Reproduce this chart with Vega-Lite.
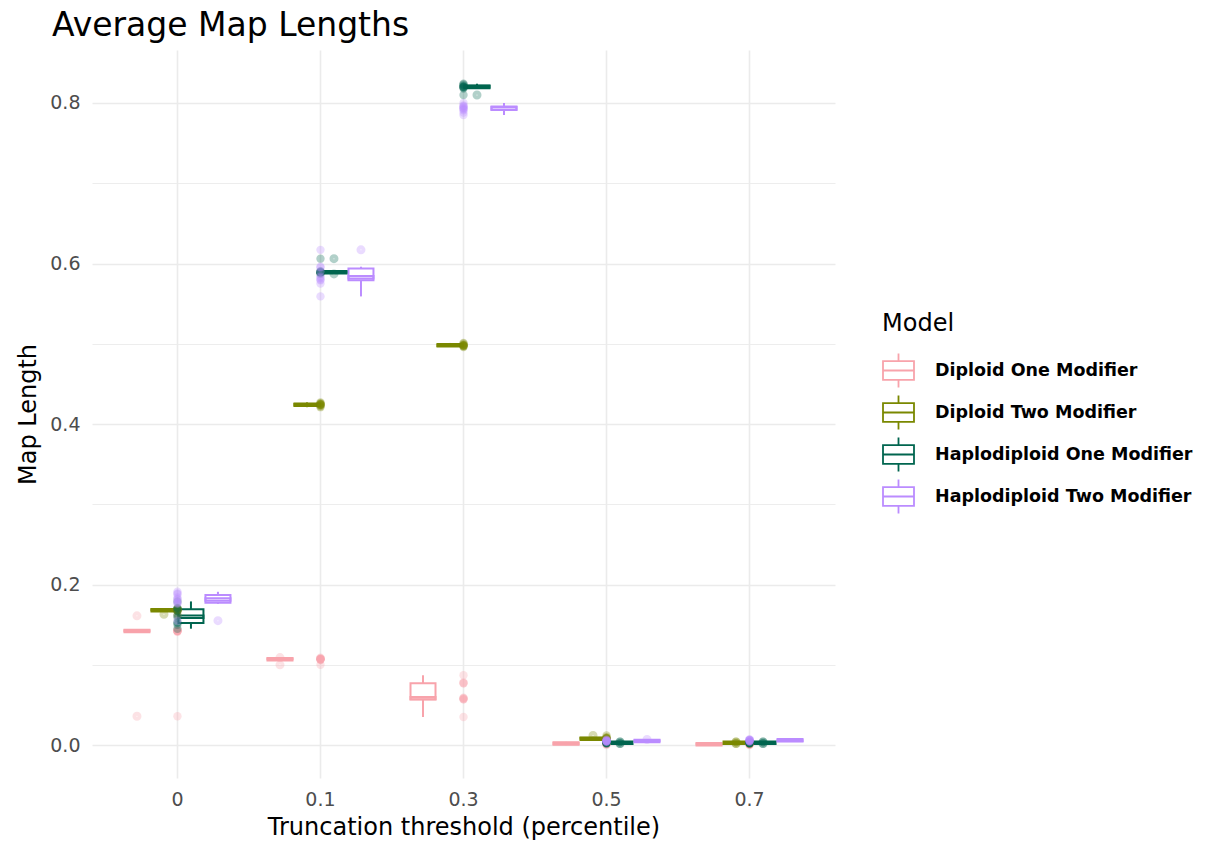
{
  "$schema": "https://vega.github.io/schema/vega-lite/v6.json",
  "width": 743,
  "height": 728,
  "autosize": {"type": "none"},
  "padding": {"left": 92, "top": 50, "right": 377, "bottom": 68},
  "background": "white",
  "title": {
    "text": "Average Map Lengths",
    "anchor": "start",
    "frame": "group",
    "dx": -40,
    "dy": 31,
    "offset": 5,
    "baseline": "bottom",
    "font": "DejaVu Sans",
    "fontSize": 33,
    "fontWeight": "normal",
    "color": "black"
  },
  "config": {
    "view": {"stroke": null},
    "axis": {
      "domain": false,
      "ticks": false,
      "gridColor": "#EBEBEB",
      "labelFont": "DejaVu Sans",
      "labelFontSize": 19,
      "labelColor": "#4D4D4D",
      "titleFont": "DejaVu Sans",
      "titleFontSize": 24,
      "titleFontWeight": "normal",
      "titleColor": "black"
    }
  },
  "data": {
    "values": [
      {"threshold": "0", "model": "Diploid One Modifier", "length": 0.036},
      {"threshold": "0", "model": "Diploid One Modifier", "length": 0.141},
      {"threshold": "0", "model": "Diploid One Modifier", "length": 0.142},
      {"threshold": "0", "model": "Diploid One Modifier", "length": 0.142},
      {"threshold": "0", "model": "Diploid One Modifier", "length": 0.142},
      {"threshold": "0", "model": "Diploid One Modifier", "length": 0.142},
      {"threshold": "0", "model": "Diploid One Modifier", "length": 0.142},
      {"threshold": "0", "model": "Diploid One Modifier", "length": 0.143},
      {"threshold": "0", "model": "Diploid One Modifier", "length": 0.143},
      {"threshold": "0", "model": "Diploid One Modifier", "length": 0.161},
      {"threshold": "0", "model": "Diploid Two Modifier", "length": 0.163},
      {"threshold": "0", "model": "Diploid Two Modifier", "length": 0.167},
      {"threshold": "0", "model": "Diploid Two Modifier", "length": 0.168},
      {"threshold": "0", "model": "Diploid Two Modifier", "length": 0.168},
      {"threshold": "0", "model": "Diploid Two Modifier", "length": 0.168},
      {"threshold": "0", "model": "Diploid Two Modifier", "length": 0.168},
      {"threshold": "0", "model": "Diploid Two Modifier", "length": 0.169},
      {"threshold": "0", "model": "Diploid Two Modifier", "length": 0.169},
      {"threshold": "0", "model": "Diploid Two Modifier", "length": 0.170},
      {"threshold": "0", "model": "Diploid Two Modifier", "length": 0.170},
      {"threshold": "0", "model": "Haplodiploid One Modifier", "length": 0.145},
      {"threshold": "0", "model": "Haplodiploid One Modifier", "length": 0.150},
      {"threshold": "0", "model": "Haplodiploid One Modifier", "length": 0.152},
      {"threshold": "0", "model": "Haplodiploid One Modifier", "length": 0.153},
      {"threshold": "0", "model": "Haplodiploid One Modifier", "length": 0.159},
      {"threshold": "0", "model": "Haplodiploid One Modifier", "length": 0.161},
      {"threshold": "0", "model": "Haplodiploid One Modifier", "length": 0.167},
      {"threshold": "0", "model": "Haplodiploid One Modifier", "length": 0.170},
      {"threshold": "0", "model": "Haplodiploid One Modifier", "length": 0.171},
      {"threshold": "0", "model": "Haplodiploid One Modifier", "length": 0.179},
      {"threshold": "0", "model": "Haplodiploid Two Modifier", "length": 0.155},
      {"threshold": "0", "model": "Haplodiploid Two Modifier", "length": 0.176},
      {"threshold": "0", "model": "Haplodiploid Two Modifier", "length": 0.177},
      {"threshold": "0", "model": "Haplodiploid Two Modifier", "length": 0.178},
      {"threshold": "0", "model": "Haplodiploid Two Modifier", "length": 0.181},
      {"threshold": "0", "model": "Haplodiploid Two Modifier", "length": 0.182},
      {"threshold": "0", "model": "Haplodiploid Two Modifier", "length": 0.184},
      {"threshold": "0", "model": "Haplodiploid Two Modifier", "length": 0.188},
      {"threshold": "0", "model": "Haplodiploid Two Modifier", "length": 0.189},
      {"threshold": "0", "model": "Haplodiploid Two Modifier", "length": 0.191},
      {"threshold": "0.1", "model": "Diploid One Modifier", "length": 0.100},
      {"threshold": "0.1", "model": "Diploid One Modifier", "length": 0.106},
      {"threshold": "0.1", "model": "Diploid One Modifier", "length": 0.107},
      {"threshold": "0.1", "model": "Diploid One Modifier", "length": 0.107},
      {"threshold": "0.1", "model": "Diploid One Modifier", "length": 0.107},
      {"threshold": "0.1", "model": "Diploid One Modifier", "length": 0.107},
      {"threshold": "0.1", "model": "Diploid One Modifier", "length": 0.107},
      {"threshold": "0.1", "model": "Diploid One Modifier", "length": 0.108},
      {"threshold": "0.1", "model": "Diploid One Modifier", "length": 0.108},
      {"threshold": "0.1", "model": "Diploid One Modifier", "length": 0.109},
      {"threshold": "0.1", "model": "Diploid Two Modifier", "length": 0.421},
      {"threshold": "0.1", "model": "Diploid Two Modifier", "length": 0.422},
      {"threshold": "0.1", "model": "Diploid Two Modifier", "length": 0.423},
      {"threshold": "0.1", "model": "Diploid Two Modifier", "length": 0.424},
      {"threshold": "0.1", "model": "Diploid Two Modifier", "length": 0.424},
      {"threshold": "0.1", "model": "Diploid Two Modifier", "length": 0.424},
      {"threshold": "0.1", "model": "Diploid Two Modifier", "length": 0.425},
      {"threshold": "0.1", "model": "Diploid Two Modifier", "length": 0.425},
      {"threshold": "0.1", "model": "Diploid Two Modifier", "length": 0.426},
      {"threshold": "0.1", "model": "Diploid Two Modifier", "length": 0.427},
      {"threshold": "0.1", "model": "Haplodiploid One Modifier", "length": 0.587},
      {"threshold": "0.1", "model": "Haplodiploid One Modifier", "length": 0.588},
      {"threshold": "0.1", "model": "Haplodiploid One Modifier", "length": 0.589},
      {"threshold": "0.1", "model": "Haplodiploid One Modifier", "length": 0.589},
      {"threshold": "0.1", "model": "Haplodiploid One Modifier", "length": 0.589},
      {"threshold": "0.1", "model": "Haplodiploid One Modifier", "length": 0.589},
      {"threshold": "0.1", "model": "Haplodiploid One Modifier", "length": 0.589},
      {"threshold": "0.1", "model": "Haplodiploid One Modifier", "length": 0.590},
      {"threshold": "0.1", "model": "Haplodiploid One Modifier", "length": 0.590},
      {"threshold": "0.1", "model": "Haplodiploid One Modifier", "length": 0.606},
      {"threshold": "0.1", "model": "Haplodiploid Two Modifier", "length": 0.559},
      {"threshold": "0.1", "model": "Haplodiploid Two Modifier", "length": 0.575},
      {"threshold": "0.1", "model": "Haplodiploid Two Modifier", "length": 0.579},
      {"threshold": "0.1", "model": "Haplodiploid Two Modifier", "length": 0.580},
      {"threshold": "0.1", "model": "Haplodiploid Two Modifier", "length": 0.582},
      {"threshold": "0.1", "model": "Haplodiploid Two Modifier", "length": 0.584},
      {"threshold": "0.1", "model": "Haplodiploid Two Modifier", "length": 0.590},
      {"threshold": "0.1", "model": "Haplodiploid Two Modifier", "length": 0.595},
      {"threshold": "0.1", "model": "Haplodiploid Two Modifier", "length": 0.596},
      {"threshold": "0.1", "model": "Haplodiploid Two Modifier", "length": 0.617},
      {"threshold": "0.3", "model": "Diploid One Modifier", "length": 0.035},
      {"threshold": "0.3", "model": "Diploid One Modifier", "length": 0.057},
      {"threshold": "0.3", "model": "Diploid One Modifier", "length": 0.057},
      {"threshold": "0.3", "model": "Diploid One Modifier", "length": 0.058},
      {"threshold": "0.3", "model": "Diploid One Modifier", "length": 0.058},
      {"threshold": "0.3", "model": "Diploid One Modifier", "length": 0.059},
      {"threshold": "0.3", "model": "Diploid One Modifier", "length": 0.077},
      {"threshold": "0.3", "model": "Diploid One Modifier", "length": 0.077},
      {"threshold": "0.3", "model": "Diploid One Modifier", "length": 0.078},
      {"threshold": "0.3", "model": "Diploid One Modifier", "length": 0.087},
      {"threshold": "0.3", "model": "Diploid Two Modifier", "length": 0.496},
      {"threshold": "0.3", "model": "Diploid Two Modifier", "length": 0.497},
      {"threshold": "0.3", "model": "Diploid Two Modifier", "length": 0.497},
      {"threshold": "0.3", "model": "Diploid Two Modifier", "length": 0.498},
      {"threshold": "0.3", "model": "Diploid Two Modifier", "length": 0.498},
      {"threshold": "0.3", "model": "Diploid Two Modifier", "length": 0.498},
      {"threshold": "0.3", "model": "Diploid Two Modifier", "length": 0.498},
      {"threshold": "0.3", "model": "Diploid Two Modifier", "length": 0.499},
      {"threshold": "0.3", "model": "Diploid Two Modifier", "length": 0.500},
      {"threshold": "0.3", "model": "Diploid Two Modifier", "length": 0.501},
      {"threshold": "0.3", "model": "Haplodiploid One Modifier", "length": 0.810},
      {"threshold": "0.3", "model": "Haplodiploid One Modifier", "length": 0.818},
      {"threshold": "0.3", "model": "Haplodiploid One Modifier", "length": 0.819},
      {"threshold": "0.3", "model": "Haplodiploid One Modifier", "length": 0.820},
      {"threshold": "0.3", "model": "Haplodiploid One Modifier", "length": 0.820},
      {"threshold": "0.3", "model": "Haplodiploid One Modifier", "length": 0.820},
      {"threshold": "0.3", "model": "Haplodiploid One Modifier", "length": 0.821},
      {"threshold": "0.3", "model": "Haplodiploid One Modifier", "length": 0.822},
      {"threshold": "0.3", "model": "Haplodiploid One Modifier", "length": 0.823},
      {"threshold": "0.3", "model": "Haplodiploid One Modifier", "length": 0.824},
      {"threshold": "0.3", "model": "Haplodiploid Two Modifier", "length": 0.785},
      {"threshold": "0.3", "model": "Haplodiploid Two Modifier", "length": 0.788},
      {"threshold": "0.3", "model": "Haplodiploid Two Modifier", "length": 0.791},
      {"threshold": "0.3", "model": "Haplodiploid Two Modifier", "length": 0.792},
      {"threshold": "0.3", "model": "Haplodiploid Two Modifier", "length": 0.793},
      {"threshold": "0.3", "model": "Haplodiploid Two Modifier", "length": 0.794},
      {"threshold": "0.3", "model": "Haplodiploid Two Modifier", "length": 0.795},
      {"threshold": "0.3", "model": "Haplodiploid Two Modifier", "length": 0.796},
      {"threshold": "0.3", "model": "Haplodiploid Two Modifier", "length": 0.797},
      {"threshold": "0.3", "model": "Haplodiploid Two Modifier", "length": 0.800},
      {"threshold": "0.5", "model": "Diploid One Modifier", "length": 0.000},
      {"threshold": "0.5", "model": "Diploid One Modifier", "length": 0.001},
      {"threshold": "0.5", "model": "Diploid One Modifier", "length": 0.001},
      {"threshold": "0.5", "model": "Diploid One Modifier", "length": 0.002},
      {"threshold": "0.5", "model": "Diploid One Modifier", "length": 0.002},
      {"threshold": "0.5", "model": "Diploid One Modifier", "length": 0.002},
      {"threshold": "0.5", "model": "Diploid One Modifier", "length": 0.002},
      {"threshold": "0.5", "model": "Diploid One Modifier", "length": 0.003},
      {"threshold": "0.5", "model": "Diploid One Modifier", "length": 0.003},
      {"threshold": "0.5", "model": "Diploid One Modifier", "length": 0.004},
      {"threshold": "0.5", "model": "Diploid Two Modifier", "length": 0.007},
      {"threshold": "0.5", "model": "Diploid Two Modifier", "length": 0.007},
      {"threshold": "0.5", "model": "Diploid Two Modifier", "length": 0.008},
      {"threshold": "0.5", "model": "Diploid Two Modifier", "length": 0.008},
      {"threshold": "0.5", "model": "Diploid Two Modifier", "length": 0.008},
      {"threshold": "0.5", "model": "Diploid Two Modifier", "length": 0.008},
      {"threshold": "0.5", "model": "Diploid Two Modifier", "length": 0.009},
      {"threshold": "0.5", "model": "Diploid Two Modifier", "length": 0.009},
      {"threshold": "0.5", "model": "Diploid Two Modifier", "length": 0.010},
      {"threshold": "0.5", "model": "Diploid Two Modifier", "length": 0.012},
      {"threshold": "0.5", "model": "Haplodiploid One Modifier", "length": 0.002},
      {"threshold": "0.5", "model": "Haplodiploid One Modifier", "length": 0.002},
      {"threshold": "0.5", "model": "Haplodiploid One Modifier", "length": 0.003},
      {"threshold": "0.5", "model": "Haplodiploid One Modifier", "length": 0.003},
      {"threshold": "0.5", "model": "Haplodiploid One Modifier", "length": 0.003},
      {"threshold": "0.5", "model": "Haplodiploid One Modifier", "length": 0.003},
      {"threshold": "0.5", "model": "Haplodiploid One Modifier", "length": 0.003},
      {"threshold": "0.5", "model": "Haplodiploid One Modifier", "length": 0.003},
      {"threshold": "0.5", "model": "Haplodiploid One Modifier", "length": 0.004},
      {"threshold": "0.5", "model": "Haplodiploid One Modifier", "length": 0.004},
      {"threshold": "0.5", "model": "Haplodiploid Two Modifier", "length": 0.004},
      {"threshold": "0.5", "model": "Haplodiploid Two Modifier", "length": 0.004},
      {"threshold": "0.5", "model": "Haplodiploid Two Modifier", "length": 0.005},
      {"threshold": "0.5", "model": "Haplodiploid Two Modifier", "length": 0.005},
      {"threshold": "0.5", "model": "Haplodiploid Two Modifier", "length": 0.005},
      {"threshold": "0.5", "model": "Haplodiploid Two Modifier", "length": 0.005},
      {"threshold": "0.5", "model": "Haplodiploid Two Modifier", "length": 0.005},
      {"threshold": "0.5", "model": "Haplodiploid Two Modifier", "length": 0.006},
      {"threshold": "0.5", "model": "Haplodiploid Two Modifier", "length": 0.006},
      {"threshold": "0.5", "model": "Haplodiploid Two Modifier", "length": 0.007},
      {"threshold": "0.7", "model": "Diploid One Modifier", "length": 0.000},
      {"threshold": "0.7", "model": "Diploid One Modifier", "length": 0.001},
      {"threshold": "0.7", "model": "Diploid One Modifier", "length": 0.001},
      {"threshold": "0.7", "model": "Diploid One Modifier", "length": 0.001},
      {"threshold": "0.7", "model": "Diploid One Modifier", "length": 0.001},
      {"threshold": "0.7", "model": "Diploid One Modifier", "length": 0.001},
      {"threshold": "0.7", "model": "Diploid One Modifier", "length": 0.001},
      {"threshold": "0.7", "model": "Diploid One Modifier", "length": 0.002},
      {"threshold": "0.7", "model": "Diploid One Modifier", "length": 0.002},
      {"threshold": "0.7", "model": "Diploid One Modifier", "length": 0.002},
      {"threshold": "0.7", "model": "Diploid Two Modifier", "length": 0.002},
      {"threshold": "0.7", "model": "Diploid Two Modifier", "length": 0.002},
      {"threshold": "0.7", "model": "Diploid Two Modifier", "length": 0.003},
      {"threshold": "0.7", "model": "Diploid Two Modifier", "length": 0.003},
      {"threshold": "0.7", "model": "Diploid Two Modifier", "length": 0.003},
      {"threshold": "0.7", "model": "Diploid Two Modifier", "length": 0.003},
      {"threshold": "0.7", "model": "Diploid Two Modifier", "length": 0.003},
      {"threshold": "0.7", "model": "Diploid Two Modifier", "length": 0.003},
      {"threshold": "0.7", "model": "Diploid Two Modifier", "length": 0.004},
      {"threshold": "0.7", "model": "Diploid Two Modifier", "length": 0.004},
      {"threshold": "0.7", "model": "Haplodiploid One Modifier", "length": 0.002},
      {"threshold": "0.7", "model": "Haplodiploid One Modifier", "length": 0.002},
      {"threshold": "0.7", "model": "Haplodiploid One Modifier", "length": 0.003},
      {"threshold": "0.7", "model": "Haplodiploid One Modifier", "length": 0.003},
      {"threshold": "0.7", "model": "Haplodiploid One Modifier", "length": 0.003},
      {"threshold": "0.7", "model": "Haplodiploid One Modifier", "length": 0.003},
      {"threshold": "0.7", "model": "Haplodiploid One Modifier", "length": 0.003},
      {"threshold": "0.7", "model": "Haplodiploid One Modifier", "length": 0.003},
      {"threshold": "0.7", "model": "Haplodiploid One Modifier", "length": 0.004},
      {"threshold": "0.7", "model": "Haplodiploid One Modifier", "length": 0.004},
      {"threshold": "0.7", "model": "Haplodiploid Two Modifier", "length": 0.004},
      {"threshold": "0.7", "model": "Haplodiploid Two Modifier", "length": 0.005},
      {"threshold": "0.7", "model": "Haplodiploid Two Modifier", "length": 0.005},
      {"threshold": "0.7", "model": "Haplodiploid Two Modifier", "length": 0.005},
      {"threshold": "0.7", "model": "Haplodiploid Two Modifier", "length": 0.006},
      {"threshold": "0.7", "model": "Haplodiploid Two Modifier", "length": 0.006},
      {"threshold": "0.7", "model": "Haplodiploid Two Modifier", "length": 0.006},
      {"threshold": "0.7", "model": "Haplodiploid Two Modifier", "length": 0.006},
      {"threshold": "0.7", "model": "Haplodiploid Two Modifier", "length": 0.007},
      {"threshold": "0.7", "model": "Haplodiploid Two Modifier", "length": 0.007}
    ]
  },
  "encoding": {
    "x": {
      "field": "threshold",
      "type": "nominal",
      "sort": ["0", "0.1", "0.3", "0.5", "0.7"],
      "scale": {"paddingInner": 0.245, "paddingOuter": 0.22},
      "axis": {
        "title": "Truncation threshold (percentile)",
        "labelAngle": 0,
        "labelPadding": 12,
        "grid": true,
        "gridWidth": 1.6,
        "bandPosition": 0.5,
        "titleY": 49,
        "titleBaseline": "middle"
      }
    },
    "y": {
      "field": "length",
      "type": "quantitative",
      "scale": {"domain": [-0.041, 0.866], "nice": false, "zero": false},
      "axis": {
        "title": "Map Length",
        "values": [0, 0.1, 0.2, 0.3, 0.4, 0.5, 0.6, 0.7, 0.8],
        "labelExpr": "round(datum.value * 10) % 2 == 0 ? format(datum.value, '.1f') : ''",
        "labelPadding": 12,
        "gridWidth": {"condition": {"test": "round(datum.value * 10) % 2 == 1", "value": 0.9}, "value": 1.6},
        "titleX": -52
      }
    }
  },
  "layer": [
    {
      "mark": {
        "type": "boxplot",
        "extent": 1.5,
        "size": 25,
        "box": {"fill": "white", "strokeWidth": 2},
        "median": {"fillOpacity": 0, "strokeWidth": 2, "thickness": 2.5},
        "rule": {"strokeWidth": 2},
        "outliers": {"size": 16, "strokeWidth": 5, "opacity": 0.3}
      },
      "encoding": {
        "xOffset": {
          "field": "model",
          "type": "nominal",
          "scale": {"paddingInner": 0, "paddingOuter": 0}
        },
        "stroke": {
          "field": "model",
          "type": "nominal",
          "scale": {
            "domain": ["Diploid One Modifier", "Diploid Two Modifier", "Haplodiploid One Modifier", "Haplodiploid Two Modifier"],
            "range": ["#F8A3AB", "#7A8800", "#00654F", "#BB8CFF"]
          },
          "legend": {
            "title": "Model",
            "orient": "none",
            "legendX": 790,
            "legendY": 262,
            "symbolSize": 961,
            "labelFont": "DejaVu Sans",
            "labelFontWeight": "bold",
            "labelFontSize": 17.5,
            "labelColor": "black",
            "labelOffset": 20,
            "labelLimit": 400,
            "rowPadding": -1,
            "titleFont": "DejaVu Sans",
            "titleFontSize": 24,
            "titleFontWeight": "normal",
            "titleColor": "black",
            "titlePadding": 18,
            "encode": {
              "symbols": {
                "update": {
                  "shape": {"value": "M-1,-0.6H1V0.6H-1Z M-1,0H1 M0,-0.6V-1.1 M0,0.6V1.1"},
                  "size": {"value": 961},
                  "fill": {"value": "white"},
                  "opacity": {"value": 1},
                  "fillOpacity": {"value": 0},
                  "strokeOpacity": {"value": 1},
                  "strokeWidth": {"value": 1.8}
                }
              }
            }
          }
        }
      }
    },
    {
      "mark": {"type": "point", "filled": true, "size": 70, "opacity": 0.3},
      "encoding": {
        "color": {
          "field": "model",
          "type": "nominal",
          "scale": {
            "domain": ["Diploid One Modifier", "Diploid Two Modifier", "Haplodiploid One Modifier", "Haplodiploid Two Modifier"],
            "range": ["#F8A3AB", "#7A8800", "#00654F", "#BB8CFF"]
          },
          "legend": null
        }
      }
    }
  ]
}
